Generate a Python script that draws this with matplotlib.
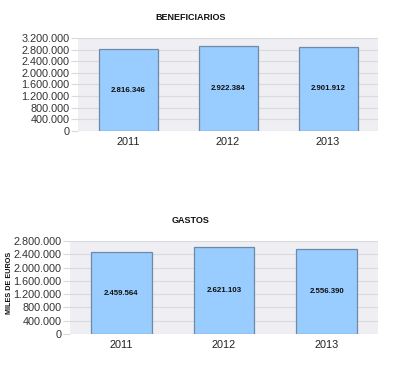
import numpy as np
import matplotlib
matplotlib.use("Agg")
from matplotlib import pyplot as plt
from matplotlib.ticker import FuncFormatter

plt.rcParams['font.family'] = ['Liberation Sans', 'DejaVu Sans']

years = ['2011', '2012', '2013']
beneficiarios = [2816346, 2922384, 2901912]
gastos = [2459564, 2621103, 2556390]
benefTicks = np.arange(0, 3200001, 400000)
gastosTicks = np.arange(0, 2800001, 400000)


def miles(v, pos=None):
    # spanish thousands separator
    return '{:,.0f}'.format(v).replace(',', '.')


def drawBars(ax, values, ticks):
    x = np.arange(len(years))
    ax.set_facecolor('#efeef3')
    ax.bar(x, values, width=0.59, color='#99ccff', edgecolor='#6f8aa6',
           linewidth=0.9, zorder=3)
    for xi, v in zip(x, values):
        ax.text(xi, v / 2, miles(v), ha='center', va='center',
                fontsize=5.7, fontweight='bold', color='#111111', zorder=4)
    ax.set_xlim(-0.5, len(years) - 0.5)
    ax.set_ylim(0, ticks[-1])
    ax.set_yticks(ticks)
    ax.yaxis.set_major_formatter(FuncFormatter(miles))
    ax.set_xticks(x)
    ax.set_xticklabels(years)
    ax.yaxis.grid(True, color='#d9d9e0', linewidth=0.8, zorder=1)
    for s in ax.spines.values():
        s.set_visible(False)
    ax.tick_params(axis='y', length=5, color='#d9d9e0', labelsize=7.8,
                   labelcolor='#333333', pad=1)
    ax.tick_params(axis='x', length=0, labelsize=7.8, labelcolor='#222222',
                   pad=4)


fig = plt.figure(figsize=(4.0, 3.68), dpi=100)

ax1 = fig.add_axes([78 / 400, 1 - 131 / 368, 300 / 400, 93 / 368])
drawBars(ax1, beneficiarios, benefTicks)

ax2 = fig.add_axes([70 / 400, 1 - 334 / 368, 308 / 400, 93 / 368])
drawBars(ax2, gastos, gastosTicks)

fig.text(191 / 400, 1 - 18 / 368, 'BENEFICIARIOS', ha='center', va='center',
         fontsize=6.5, fontweight='bold', color='#111111')
fig.text(191 / 400, 1 - 221 / 368, 'GASTOS', ha='center', va='center',
         fontsize=6.5, fontweight='bold', color='#111111')
fig.text(10 / 400, 1 - 283 / 368, 'MILES DE EUROS', ha='center', va='center',
         rotation=90, fontsize=5.2, fontweight='bold', color='#111111')

fig.savefig('out.png', dpi=100, facecolor='white')
